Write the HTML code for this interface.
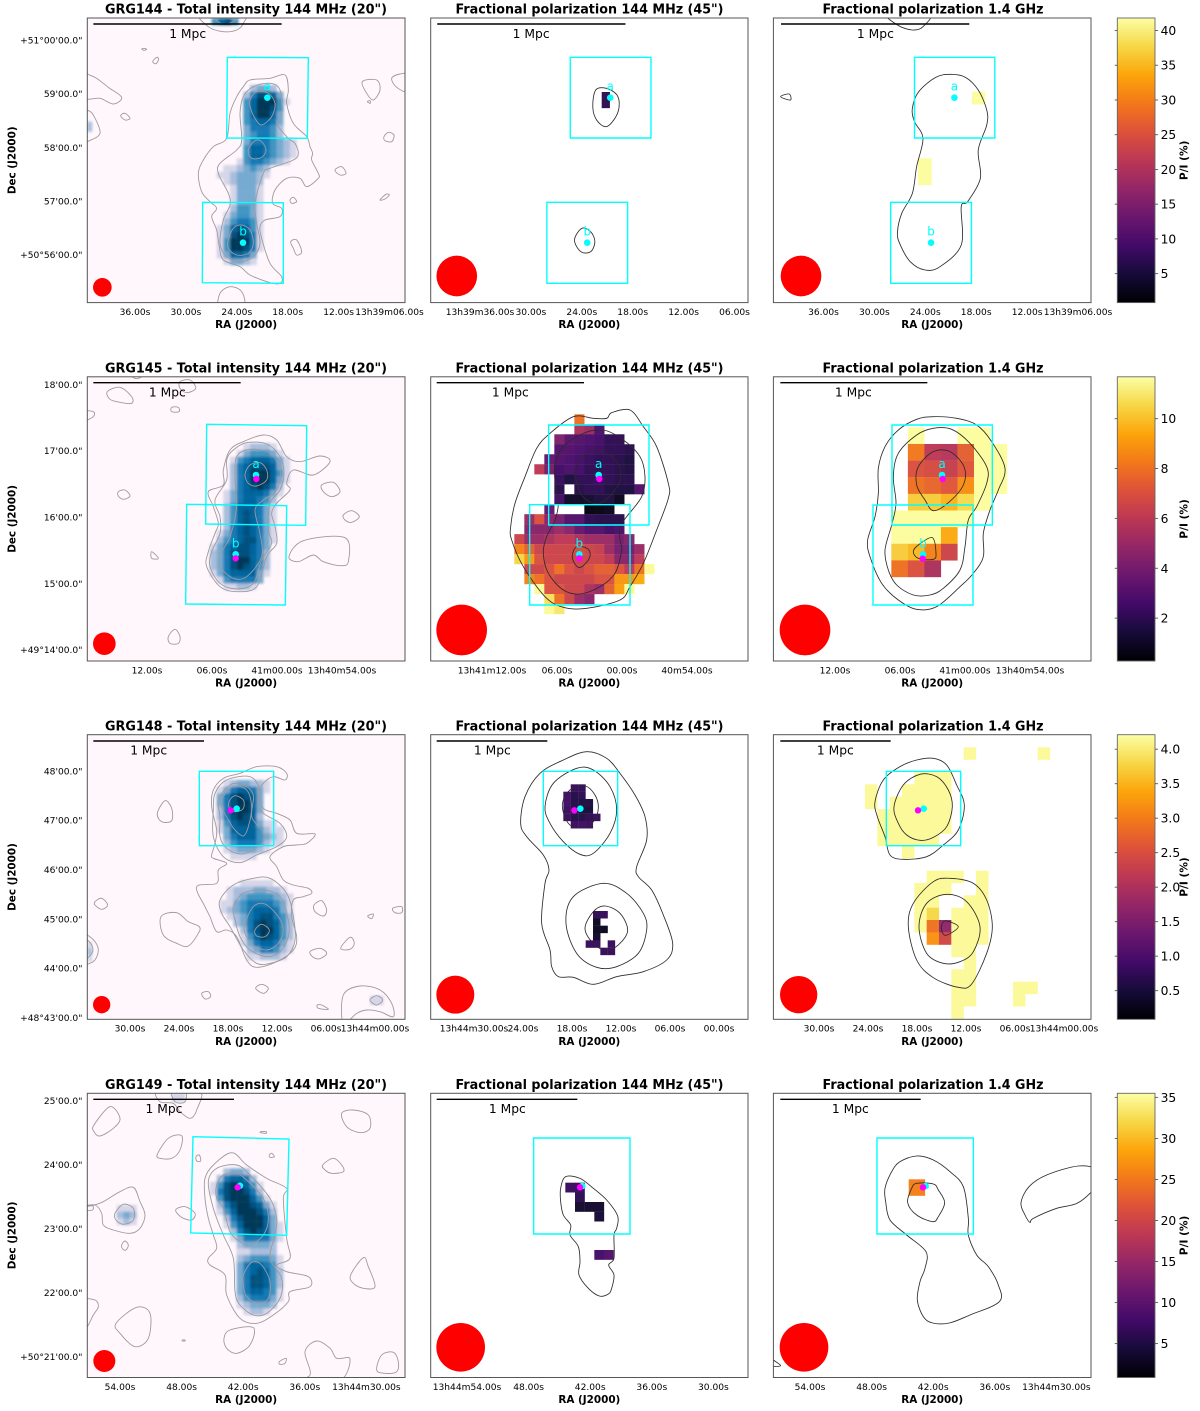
<!DOCTYPE html>
<html lang="en">
<head>
<meta charset="utf-8">
<title>GRG polarization maps</title>
<style>
html,body{margin:0;padding:0;background:#fff;}
svg{display:block;font-family:"DejaVu Sans","Liberation Sans",sans-serif;}
</style>
</head>
<body>
<svg id="fig" xmlns="http://www.w3.org/2000/svg" width="1200" height="1411" viewBox="0 0 1200 1411">
<defs><filter id="soft" x="-5%" y="-5%" width="110%" height="110%"><feGaussianBlur stdDeviation="1.25"/></filter></defs>
</svg>
<script>
/* ---------- colour scales ---------- */
const pubuStops = ['#fff7fb','#ece7f2','#d0d1e6','#a6bddb','#74a9cf','#3690c0','#0570b0','#045a8d','#023858'];
const infernoStops = ['#000004','#160b39','#420a68','#6a176e','#932667','#bc3754','#dd513a','#f37819','#fca50a','#f6d746','#fcffa4'];

/* ---------- row level data ---------- */
const rowTops = [18, 376.8, 734.7, 1093.3];
const rowBottoms = [302.6, 661, 1019.3, 1377.5];
const colLefts = [87.3, 430.7, 773.4];
const colRights = [405, 748, 1091];
const sourceNames = ['GRG144', 'GRG145', 'GRG148', 'GRG149'];
const columnTitles = [' - Total intensity 144 MHz (20")', 'Fractional polarization 144 MHz (45")', 'Fractional polarization 1.4 GHz'];
const titleCenters = [246, 589.5, 933];
const titleWidths = [282, 268, 221];

const decLabels = [
  ['+51°00\'00.0"', '59\'00.0"', '58\'00.0"', '57\'00.0"', '+50°56\'00.0"'],
  ['18\'00.0"', '17\'00.0"', '16\'00.0"', '15\'00.0"', '+49°14\'00.0"'],
  ['48\'00.0"', '47\'00.0"', '46\'00.0"', '45\'00.0"', '44\'00.0"', '+48°43\'00.0"'],
  ['25\'00.0"', '24\'00.0"', '23\'00.0"', '22\'00.0"', '+50°21\'00.0"']
];
const decTickMin = [[5, 4, 3, 2, 1], [5, 4, 3, 2, 1], [6, 5, 4, 3, 2, 1], [5, 4, 3, 2, 1]];
const decAxisFirst = [40, 384.5, 771, 1100.5];
const decAxisStep = [53.7, 66.3, 49.3, 64];

const raLabels = [
  [['36.00s','30.00s','24.00s','18.00s','12.00s','13h39m06.00s'],['13h39m36.00s','30.00s','24.00s','18.00s','12.00s','06.00s'],['36.00s','30.00s','24.00s','18.00s','12.00s','13h39m06.00s']],
  [['12.00s','06.00s','41m00.00s','13h40m54.00s'],['13h41m12.00s','06.00s','00.00s','40m54.00s'],['12.00s','06.00s','41m00.00s','13h40m54.00s']],
  [['30.00s','24.00s','18.00s','12.00s','06.00s','13h44m00.00s'],['13h44m30.00s','24.00s','18.00s','12.00s','06.00s','00.00s'],['30.00s','24.00s','18.00s','12.00s','06.00s','13h44m00.00s']],
  [['54.00s','48.00s','42.00s','36.00s','13h44m30.00s'],['13h44m54.00s','48.00s','42.00s','36.00s','30.00s'],['54.00s','48.00s','42.00s','36.00s','13h44m30.00s']]
];
const raAxisFirst = [[135,480,823.5],[147,492,835],[130,474,819],[120,467,810]];
const raAxisStep = [50.9, 65, 49, 61.6];

const cbarMin = [0.83, 0.28, 0.085, 0.87];
const cbarMax = [41.8, 11.68, 4.21, 35.5];
const cbarTicks = [[5,10,15,20,25,30,35,40],[2,4,6,8,10],[0.5,1,1.5,2,2.5,3,3.5,4],[5,10,15,20,25,30,35]];
const cbarTickLabels = [['5','10','15','20','25','30','35','40'],['2','4','6','8','10'],['0.5','1.0','1.5','2.0','2.5','3.0','3.5','4.0'],['5','10','15','20','25','30','35']];

/* ---------- GRG144 ---------- */
const r1p1Heat = [
 {x:410,y:255,cw:20,ch:20,rows:[
  [0,0,0,0,0,2,3,3,2,0,0,0],[0,0,0,0,2,5,7,7,6,3,0,0],[0,0,0,0,4,6,8,8,8,4,1,0],[0,0,0,0,4,6,8,8,7,4,0,0],
  [0,0,0,0,4,6,8,8,6,3,0,0],[0,0,0,0,4,5,6,6,5,3,0,0],[0,0,0,0,3,5,5,5,4,2,0,0],[0,0,0,0,3,4,5,5,4,2,0,0],
  [0,0,0,0,3,5,5,5,4,3,2,1],[0,0,0,0,4,6,6,5,4,3,2,1],[0,0,0,0,4,6,6,5,4,3,2,1],[0,0,0,1,4,5,5,4,3,2,1,0],
  [0,1,1,2,3,4,3,2,0,0,0,0],[1,1,2,3,3,3,2,1,0,0,0,0],[0,1,2,3,3,3,2,0,0,0,0,0],[0,0,1,3,3,3,1,0,0,0,0,0],
  [0,0,1,3,3,3,1,0,0,0,0,0],[0,0,1,3,3,3,1,0,0,0,0,0],[0,0,2,4,4,3,1,0,0,0,0,0],[0,1,3,4,4,3,1,0,0,0,0,0],
  [0,2,4,5,5,4,1,0,0,0,0,0],[1,3,6,7,6,4,1,0,0,0,0,0],[1,3,7,8,7,5,1,0,0,0,0,0],[1,4,8,8,8,5,1,0,0,0,0,0],
  [1,4,8,8,7,5,1,0,0,0,0,0],[1,3,6,6,5,3,0,0,0,0,0,0],[0,1,3,3,2,1,0,0,0,0,0,0]]},
 {x:395,y:55,cw:20,ch:20,rows:[[4,6,7,4]]},
 {x:22,y:365,cw:14,ch:30,rows:[[2]]}
];
const r1p1Contours = [
 [490,260,510,240,570,235,615,225,625,270,620,310,640,370,680,410,690,440,698,460,695,480,715,520,715,535,680,560,660,535,620,535,585,570,578,610,605,625,600,650,555,660,540,680,545,715,570,790,605,830,600,850,570,848,510,825,480,800,430,780,418,740,410,690,395,650,410,625,390,605,365,575,355,520,370,480,400,440,440,415,450,340,470,290],
 [490,290,520,260,570,250,600,270,605,340,590,370,625,415,645,430,655,460,640,480,570,505,550,520,525,610,530,670,540,730,520,770,480,785,440,770,420,730,430,660,450,615,445,580,415,520,420,490,470,450,485,420,480,340],
 [510,300,530,275,565,280,585,310,575,350,545,375,525,355,510,320],
 [505,450,525,422,545,425,558,450,545,472,515,475],
 [445,720,460,685,485,675,510,690,520,730,505,760,470,765,445,745],
 [360,40,385,80,430,95,470,90,490,70,490,40],
 [400,40,410,62,435,72,465,62,475,40],
 [10,215,22,222,50,235,85,262,125,292,100,312,60,295,10,292],
 [10,325,22,330,40,345,60,400,22,425,10,430],
 [185,147,192,145,200,148,192,151],
 [218,185,230,172,236,178,228,191],
 [122,347,135,340,150,355,135,360],
 [765,510,785,500,798,520,780,525],
 [912,410,925,397,942,405,935,425,915,422],
 [900,600,918,583,928,585,915,597],
 [630,600,640,592,650,605,635,610],
 [632,725,650,720,665,755,650,765,640,745],
 [847,245,890,240,900,270,880,300,860,280],
 [935,235,960,222,985,225,985,275,950,262],
 [862,305,870,302,871,310],
 [420,920,420,880,450,860,485,875,490,920]
];
const r1p2Heat = [{x:404,y:276,cw:19,ch:48,rows:[[7]]}];
const r1p2Contours = [
 [390,270,415,265,440,285,445,320,435,355,414,380,392,360,383,320],
 [340,720,357,685,378,695,388,725,378,755,355,755]
];
const r1p3Heat = [
 {x:1275,y:275,cw:31,ch:38,rows:[[41.5]]},
 {x:1148,y:475,cw:32,ch:80,rows:[[41.5]]}
];
const r1p3Contours = [
 [1135,325,1150,275,1190,232,1225,223,1260,232,1290,270,1310,330,1310,375,1290,450,1295,535,1265,605,1250,620,1250,735,1200,800,1165,810,1130,785,1105,730,1100,695,1110,640,1135,580,1145,500,1160,415,1140,365],
 [1075,40,1100,75,1135,90,1160,80,1175,40],
 [825,290,845,282,848,300]
];

/* ---------- GRG145 ---------- */
const r2p1Heat = [{x:390,y:220,cw:20,ch:20,rows:[
 [0,0,0,0,0,1,2,2,2,1,0,0],[0,0,0,0,1,3,4,4,4,3,1,0],[0,0,0,1,4,5,6,6,6,5,3,1],[0,0,0,2,5,6,7,7,7,6,3,1],
 [0,0,0,2,5,6,8,8,8,6,4,1],[0,0,0,2,5,6,8,8,8,6,3,1],[0,0,0,2,5,6,7,8,7,5,2,0],[0,0,1,3,5,6,6,6,5,3,1,0],
 [0,0,1,3,5,6,6,5,4,2,0,0],[0,0,2,4,6,6,6,5,3,1,0,0],[0,0,2,4,6,7,6,5,3,1,0,0],[0,0,2,4,6,7,6,5,3,1,0,0],
 [0,0,2,5,6,7,6,5,3,1,0,0],[0,1,3,5,6,7,6,5,3,1,0,0],[0,2,4,5,6,7,7,5,3,1,0,0],[1,3,5,6,7,7,6,5,3,0,0,0],
 [2,3,5,7,7,7,6,5,2,0,0,0],[2,3,5,7,8,8,6,5,2,0,0,0],[2,3,5,7,8,7,6,4,2,0,0,0],[1,3,5,6,6,6,6,3,1,0,0,0],
 [0,1,4,5,5,5,5,3,0,0,0,0],[0,0,1,1,2,2,1,0,0,0,0,0]]}];
const r2p1Contours = [
 [450,240,490,215,550,195,590,210,620,260,660,275,720,258,750,275,700,315,640,300,620,340,630,360,590,400,575,430,585,470,590,520,560,560,530,650,470,665,420,650,380,590,385,545,405,490,415,460,400,410,385,365,430,345,430,300],
 [460,240,500,218,560,222,600,260,612,310,600,360,570,400,565,480,575,520,545,570,520,640,470,657,420,640,390,590,395,545,420,490,420,440,405,390,440,330,440,270],
 [470,260,510,238,570,250,600,300,590,360,550,390,525,420,540,490,545,560,500,620,460,625,420,590,420,555,450,500,470,410,465,330],
 [495,313,510,285,540,278,560,300,560,330,530,348,505,340],
 [82,65,120,52,155,80,155,100,120,97,90,88],
 [300,35,330,30,347,55,320,68,300,55],
 [10,125,40,125,40,140,10,152],
 [275,112,295,112,297,125,275,125],
 [115,365,135,360,150,378,130,388,115,378],
 [215,545,235,565,215,565],
 [725,345,760,337,780,365,755,380,730,365],
 [790,435,815,422,838,440,815,457,795,450],
 [627,560,670,512,795,503,805,575,780,587,730,575,700,555,655,575],
 [265,800,285,778,300,800,295,820,270,820],
 [150,12,170,26,195,12]
];
const r2p2Heat = [{x:253,y:133,cw:30,ch:29.95,rows:[
 [0,0,0,0,0,0,8,0,0,0,0,0,0,0],
 [0,0,0,0,0,0,5.5,5,2.8,0,0,0,0,0],
 [0,0,0,0,4.2,3.2,3,2.8,2.6,2,2,0,0,0],
 [0,0,0,0,3,3,2.8,2.6,2.4,2,2,1.8,0,0],
 [0,0,0,3.5,3,2.8,2.6,2.2,2,2,1.8,1.5,0,0],
 [0,0,6,4,2.5,2.8,2.5,2,2,2,1.8,1.6,0,0],
 [0,0,0,0,2.2,1.5,2,2,2.2,2,1.8,1.8,0,0],
 [0,0,0,0,1.8,0,1.8,2,2,1.6,1.5,1.5,3,0],
 [0,0,0,0,2.5,1,1,1.2,1.5,1.6,0.8,0,0,0],
 [0,0,0,3.5,0,0,0,0.5,0.6,0.8,0,0,0,0],
 [0,5,7,4.5,4,3,3,2,1.8,1.8,1.8,0,0,0],
 [0,4.5,4.5,4.5,5,4.5,3.5,3,3,2.5,2.8,0,0,0],
 [6.5,5,5,5.5,6,6,5.5,5,5,5,4,4.5,0,0],
 [8.5,7.5,6.5,6.5,6.5,6.5,6.8,6.5,6.3,5,4,4,5,0],
 [10.5,9,7,6.5,6.5,6.5,6.5,6.5,6.5,6,4.5,4.5,6,0],
 [0,6.5,6.5,7,8,7,6.5,7,7.5,7.5,7,6,8,11.5],
 [0,8.5,8,7,6.5,6.5,6.5,6.5,7,7,9,9,9.5,0],
 [0,0,11.5,7,7,6.5,6.5,5.5,5,7.5,9.2,11.5,0,0],
 [0,0,0,10.8,8,6.5,5,4.5,0,0,0,0,0,0],
 [0,0,0,11.5,11,0,0,0,0,0,0,0,0,0]]}];
const r2p2Contours = [
 [320,235,360,190,430,140,490,145,530,145,545,128,600,120,640,170,680,230,715,340,715,385,680,480,640,580,600,650,570,690,470,715,400,712,345,680,280,590,245,510,242,470,255,400,285,320],
 [375,280,400,230,460,190,520,180,580,210,630,260,645,320,635,380,590,440,570,470,570,510,575,540,555,610,510,650,450,672,400,660,355,610,340,550,350,500,375,450,385,400,375,330],
 [437,300,460,255,510,240,560,275,572,320,555,360,510,400,470,390,445,355],
 [427,563,440,530,475,538,478,565,448,593]
];
const r2p3Heat = [{x:364,y:172,cw:49.6,ch:49.9,rows:[
 [0,11.6,0,0,11.6,11.6,0],
 [0,8.2,6,5.8,7.5,11.6,11.6],
 [0,7,6.8,6.3,7.2,11.6,11.6],
 [0,8,7.7,7.2,8.8,11.6,11.6],
 [0,10.3,10.3,9.7,10.6,11.6,0],
 [11.6,11.6,11.6,11.6,11.6,0,0],
 [11.6,11.6,11.6,9.5,0,0,0],
 [10.3,9.8,8.5,6.5,0,0,0],
 [8,7,5.5,0,0,0,0]]}];
const r2p3Contours = [
 [325,295,345,230,385,180,440,148,490,140,560,145,620,165,665,215,705,295,685,360,660,420,640,490,640,560,610,610,570,650,500,710,440,718,385,690,335,640,300,560,293,510,315,440,325,370],
 [370,320,385,250,440,195,490,175,545,178,600,220,650,290,650,340,620,410,595,450,585,530,570,600,520,655,480,675,430,675,380,645,355,600,345,540,365,465,378,400],
 [440,345,445,290,490,245,540,245,582,290,580,345,535,398,490,422,465,390],
 [430,545,445,525,487,503,498,550,490,568,445,565]
];

/* ---------- GRG148 ---------- */
const r3p1Heat = [
 {x:410,y:150,cw:20,ch:20,rows:[
  [0,1,2,3,3,2,2,1,0,0],[1,3,5,6,6,5,3,1,0,0],[3,5,7,8,7,6,3,0,0,0],[3,5,7,8,8,6,3,0,0,0],[2,5,8,8,8,6,3,0,0,0],
  [2,5,7,8,7,6,2,0,0,0],[1,4,6,7,7,6,3,1,1,0],[1,3,6,6,6,6,4,2,1,1],[0,3,5,6,6,6,4,3,2,1],[0,2,4,5,5,5,4,2,1,1],
  [0,1,2,3,3,3,2,1,0,0],[0,0,1,1,1,1,0,0,0,0]]},
 {x:420,y:450,cw:20,ch:20,rows:[
  [0,0,0,1,1,1,1,1,0,0,0],[0,1,2,2,2,3,3,2,2,1,0],[0,1,2,3,4,4,4,4,3,2,1],[1,1,3,4,5,5,5,5,4,3,1],
  [1,2,3,4,5,6,6,6,5,3,1],[0,1,2,3,5,6,7,7,5,4,2],[0,0,2,3,5,7,8,7,6,4,2],[0,0,0,2,5,7,8,8,6,4,2],
  [0,0,0,1,4,6,8,7,6,4,2],[0,0,0,1,3,5,6,6,5,3,1],[0,0,0,0,2,3,5,5,4,2,1],[0,0,0,0,1,1,2,2,2,1,0]]},
 {x:22,y:635,cw:14,ch:20,rows:[[1],[2],[1]]},
 {x:870,y:797,cw:20,ch:14,rows:[[1,1],[1,1]]}
];
const r3p1Contours = [
 [400,180,430,145,480,130,530,110,590,110,620,130,615,150,580,140,550,160,535,190,550,235,590,250,630,270,650,310,705,312,680,340,650,345,610,350,570,380,590,410,610,450,640,465,685,475,695,490,670,500,640,510,635,560,650,620,640,660,590,695,530,712,500,690,470,620,440,600,410,605,390,560,375,530,350,470,410,460,415,420,440,400,400,385,395,375,405,340,410,300,395,230],
 [405,190,440,150,510,140,540,180,535,220,550,250,600,280,620,320,590,350,530,375,480,398,430,380,400,320,400,240],
 [415,210,450,165,490,165,520,195,515,260,545,300,552,330,520,360,480,372,440,355,420,320,420,260],
 [430,200,460,170,500,180,515,230,505,290,490,318,465,300,445,270,425,230],
 [447,215,465,197,490,210,490,235,470,245,450,240],
 [420,510,460,465,520,445,570,445,620,490,640,560,645,630,620,680,570,700,530,700,490,660,450,590,425,550],
 [460,530,490,490,550,480,600,500,625,570,625,620,600,665,560,680,510,660,480,620,465,570],
 [495,580,520,530,555,522,595,560,610,600,595,640,560,660,520,645,495,610],
 [525,600,545,583,568,600,555,620,530,618],
 [232,250,255,212,275,235,275,272,245,275],
 [45,515,65,505,83,525,65,538,45,525],
 [243,560,290,548,325,575,358,590,355,610,325,648,290,640,250,615],
 [365,790,385,785,392,800,375,807],
 [527,775,545,763,565,775,550,790],
 [702,525,725,512,740,540,730,558,705,545],
 [690,665,720,655,740,670,720,686,700,682],
 [782,655,810,622,823,640,810,658],
 [938,535,965,530,965,548,945,548],
 [863,558,880,552,875,566],
 [712,825,725,825,745,838,715,835],
 [790,795,840,768,900,780,935,820,940,860,900,845,860,840,830,850,790,880],
 [870,810,890,797,908,810,890,825],
 [10,612,22,615,45,635,55,660,45,690,22,703,10,705],
 [10,625,22,630,35,645,38,665,22,685,10,690]
];
const r3p2Heat = [
 {x:400,y:163,cw:22.2,ch:22,rows:[
  [0,0.8,0.75,0,0],[0.9,0.6,0.7,0,0],[0.9,0.6,0.55,0.55,0],[0.8,0.6,0.5,0.5,0],[0.8,0.6,0.6,0.7,0.8],[0,0.85,0.9,0.85,0]]},
 {x:467,y:543,cw:22,ch:22,rows:[
  [0,0.7,0.8,0],[0,0.3,0,0],[0,0.3,0.3,0],[0,0.4,0,0],[0.8,0.8,0,0.8],[0,0,0.8,0.8]]}
];
const r3p2Contours = [
 [272,280,285,200,330,130,400,90,470,65,530,85,570,130,615,195,645,260,650,330,620,410,625,440,665,480,700,555,728,640,710,690,640,725,560,740,490,763,430,742,385,740,365,710,360,660,335,580,345,460,357,420,340,375,290,320],
 [345,230,370,160,440,115,490,120,540,170,560,240,540,310,490,370,450,373,400,335,360,280],
 [397,225,420,180,465,168,495,195,505,235,490,275,450,292,415,280],
 [408,580,430,500,520,460,590,490,640,550,650,600,625,670,560,710,500,712,440,670],
 [465,595,490,545,525,528,570,550,593,600,570,640,530,662,490,640]
];
const r3p3Heat = [{x:285,y:52,cw:37,ch:37,rows:[
 [0,0,0,0,0,0,0,0,4.15,0,0,0,0,0,4.15],
 [0,0,0,0,0,0,0,0,0,0,0,0,0,0,0],
 [0,0,0,0,4.15,4.15,4.15,0,0,0,0,0,0,0,0],
 [4.15,0,0,4.15,4.15,4.15,4.15,0,0,0,0,0,0,0,0],
 [4.15,0,4.15,4.15,4.15,4.15,4.15,0,0,0,0,0,0,0,0],
 [0,4.15,4.15,4.15,4.15,4.15,4.15,0,0,0,0,0,0,0,0],
 [0,4.15,4.15,4.15,4.15,4.15,4.15,0,0,0,0,0,0,0,0],
 [0,4.15,4.15,4.15,4.15,4.15,0,0,0,0,0,0,0,0,0],
 [0,0,0,4.15,0,0,0,0,0,0,0,0,0,0,0],
 [0,0,0,0,0,0,0,0,0,0,0,0,0,0,0],
 [0,0,0,0,0,4.15,4.15,4.15,0,4.15,0,0,0,0,0],
 [0,0,0,0,4.15,4.15,4.15,0,0,4.15,0,0,0,0,0],
 [0,0,0,0,4.15,4.15,0,0,4.15,4.15,0,0,0,0,0],
 [0,0,0,0,4.15,3.8,0,4.15,4.15,4.15,0,0,0,0,0],
 [0,0,0,0,4.15,2.9,1.7,4.15,4.15,4.15,0,0,0,0,0],
 [0,0,0,0,0,3.2,2.4,4.15,4.15,4.15,0,0,0,0,0],
 [0,0,0,0,0,0,0,4.15,4.15,0,0,0,0,0,0],
 [0,0,0,0,0,0,0,0,4.15,0,0,0,0,0,0],
 [0,0,0,0,0,0,0,4.15,4.15,0,0,0,0,0,0],
 [0,0,0,0,0,0,0,4.15,4.15,0,0,0,4.15,4.15,0],
 [0,0,0,0,0,0,0,4.15,4.15,0,0,0,4.15,0,0],
 [0,0,0,0,0,0,0,4.15,0,0,0,0,0,0,0]]}];
const r3p3Contours = [
 [315,215,340,150,390,110,440,90,490,85,530,105,560,165,583,225,565,300,520,345,470,380,400,388,360,375,345,320,322,260],
 [372,230,400,165,450,133,500,140,535,180,547,230,530,290,490,322,450,331,410,315,385,280],
 [415,590,430,520,490,455,540,445,610,460,650,510,667,590,650,670,605,762,565,772,490,743,440,690],
 [447,590,470,520,530,493,590,515,630,590,610,665,570,695,520,700,470,670],
 [514,595,525,573,565,590,527,616]
];

/* ---------- GRG149 ---------- */
const r4p1Heat = [
 {x:390,y:250,cw:20,ch:20,rows:[
  [0,0,2,3,3,2,0,0,0,0,0],[0,2,5,6,6,5,2,0,0,0,0],[1,4,7,8,8,6,4,1,0,0,0],[1,5,7,8,8,7,5,2,0,0,0],
  [0,4,7,8,8,8,6,4,1,0,0],[0,2,5,7,8,8,7,6,3,1,0],[0,1,4,6,8,8,8,7,5,2,0],[0,0,2,5,7,8,8,8,6,3,0],
  [0,0,1,4,6,8,8,8,6,3,1],[0,0,0,2,5,7,8,7,6,3,1],[0,0,0,1,3,5,5,5,5,3,1],[0,0,0,0,2,3,3,3,3,2,0],
  [0,0,0,0,1,1,2,2,2,2,0],[0,0,0,0,2,3,4,4,4,3,1],[0,0,0,0,3,5,6,6,5,4,1],[0,0,0,0,3,5,6,7,6,4,2],
  [0,0,0,0,3,5,7,7,6,4,2],[0,0,0,0,3,5,7,7,6,4,2],[0,0,0,0,3,5,6,6,5,4,1],[0,0,0,0,2,4,5,5,5,3,1],
  [0,0,0,0,1,2,3,3,3,2,0],[0,0,0,0,0,1,2,2,1,0,0]]},
 {x:110,y:360,cw:20,ch:20,rows:[[1,1,1],[2,3,2],[1,2,1]]},
 {x:275,y:25,cw:20,ch:25,rows:[[1,1]]}
];
const r4p1Contours = [
 [375,280,400,240,455,203,500,240,560,280,620,310,610,340,620,460,630,520,590,540,620,560,685,575,690,605,630,620,625,650,580,690,530,715,480,700,440,630,435,570,390,540,385,520,410,490,400,450,385,400,375,340],
 [385,290,410,250,470,240,510,270,570,340,590,400,585,450,570,520,605,580,600,640,560,685,520,690,480,660,465,620,460,520,430,450,400,370],
 [410,300,430,270,470,265,505,290,550,340,565,400,550,450,510,480,480,470,450,440,430,370,410,340],
 [490,570,515,532,545,540,570,590,565,640,535,655,500,635,490,600],
 [105,385,130,358,160,370,160,405,130,418,108,405],
 [10,365,35,362,70,350,120,320,160,307,180,350,195,390,180,430,150,445,100,435,70,420,65,385,45,360],
 [10,362,37,362,37,375,10,375],
 [125,480,135,468,145,480,138,495,128,492],
 [42,120,90,65,120,100,100,130,60,153,42,140],
 [232,208,265,160,305,152,300,195,275,220,240,220],
 [348,215,358,210,362,228,350,228],
 [235,15,240,50,280,55,300,80,330,100,350,75,358,15],
 [275,15,285,50,315,50,315,15],
 [287,375,315,365,345,385,335,405,305,397],
 [542,140,558,140,558,145,542,143],
 [568,210,575,205,583,215,570,217],
 [785,85,820,75,865,90,870,130,840,143,800,125],
 [728,240,760,220,785,240,790,260,755,265,735,255],
 [812,570,850,518,865,545,885,605,850,610,820,595],
 [10,650,45,645,55,665,40,690,22,725,10,730],
 [108,715,170,667,210,685,205,760,165,785,120,745],
 [432,760,450,735,520,728,510,780,470,805,440,790],
 [598,830,618,820,615,835,600,838],
 [635,890,690,870,675,800,710,768,750,790,770,820,810,822,775,890],
 [890,855,905,810,940,802,955,830,950,860,915,865],
 [307,765,315,765,315,768,307,768]
];
const r4p2Heat = [
 {x:406,y:293,cw:29,ch:29,rows:[
  [7,7,0,0],[0,6,0,0],[0,3.5,3.5,3.5],[0,0,0,4]]},
 {x:493,y:495,cw:29,ch:29,rows:[[8,9]]}
];
const r4p2Contours = [
 [392,310,407,275,450,280,490,310,530,345,563,393,560,430,552,450,552,520,536,540,552,570,545,610,535,627,508,633,475,610,447,570,450,530,445,485,420,450,422,420,400,390,392,350]
];
const r4p3Heat = [{x:416,y:283,cw:49,ch:49,rows:[[25.5]]}];
const r4p3Contours = [
 [347,350,345,310,365,260,390,230,440,213,490,225,540,260,580,305,595,400,595,450,620,510,655,545,685,600,688,650,600,690,538,714,488,714,460,695,442,645,450,590,465,550,468,500,410,450,360,405],
 [413,353,425,310,440,295,490,297,505,315,524,353,505,395,488,410,440,390],
 [753,353,777,305,830,270,925,243,980,255,980,300,925,353,860,370,790,400,780,412,765,390],
 [-5,815,10,825,32,842,10,845,-5,848]
];

/* ---------- box regions, source positions, scale bars, beams (map units) ---------- */
const r1Boxes = [[[442,172,685,173,682,415,440,414],[368,607,610,608,610,850,367,848]],[[330,172,520,172,520,414,330,414],[275,607,465,607,465,850,275,850]],[[1140,172,1329,172,1329,414,1140,414],[1084,607,1274,607,1274,850,1084,850]]];
const r2Boxes = [[[380,163,680,167,677,466,377,462],[320,403,620,407,616,705,317,702]],[[356,165,657,165,657,465,356,465],[299,404,600,404,600,705,299,705]],[[366,165,667,165,667,465,366,465],[309,405,609,405,609,705,309,705]]];
const r3Boxes = [[[358,124,581,124,581,347,358,347]],[[340,124,563,124,563,347,340,347]],[[349,124,572,124,572,347,349,347]]];
const r4Boxes = [[[339,155,627,162,620,451,332,444]],[[311,159,600,159,600,447,311,447]],[[321,159,610,159,610,447,321,447]]];

const r1Cyan = [[[562,293],[489,728]],[[424,293],[370,728]],[[1234,293],[1179,728]]];
const r2Cyan = [[[528,315],[467,553]],[[506,315],[448,553]],[[516,315],[459,553]]];
const r2Magenta = [[[529,327],[467,565]],[[508,327],[448,565]],[[518,327],[458,566]]];
const r3Cyan = [[[470,236]],[[451,236]],[[461,236]]];
const r3Magenta = [[[452,241]],[[433,241]],[[444,241]]];
const r4Cyan = [[[480,302]],[[457,303]],[[467,303]]];
const r4Magenta = [[[473,307]],[[450,307]],[[459,307]]];

const r1Scale = [[40,605,72,323,100],[17,460,72,238,100],[826,1269,72,1048,100]];
const r2Scale = [[40,482,38,262,65],[20,462,38,241,65],[31,472,38,250,65]];
const r3Scale = [[40,372,33,206,60],[20,352,33,187,60],[31,362,33,196,60]];
const r4Scale = [[40,462,43,252,70],[20,442,43,232,70],[31,452,43,241,70]];

const r1Beam = [[67,862,28],[63,828,61],[873,828,61]];
const r2Beam = [[73,821,34],[95,780,76],[105,780,76]];
const r3Beam = [[65,824,26],[76,794,57],[86,794,56]];
const r4Beam = [[73,828,33],[92,787,73],[102,787,73]];

const rowCropsY = [0, 370, 730, 1085];
const rowColumnCropsX = [[80,430,430],[80,430,770],[80,430,770],[80,430,770]];
const rowColumnZoomX = [[3,2.353,2.353],[3,3,3],[3,3,3],[3,3,3]];

const allHeat = [[r1p1Heat,r1p2Heat,r1p3Heat],[r2p1Heat,r2p2Heat,r2p3Heat],[r3p1Heat,r3p2Heat,r3p3Heat],[r4p1Heat,r4p2Heat,r4p3Heat]];
const allContours = [[r1p1Contours,r1p2Contours,r1p3Contours],[r2p1Contours,r2p2Contours,r2p3Contours],[r3p1Contours,r3p2Contours,r3p3Contours],[r4p1Contours,r4p2Contours,r4p3Contours]];
const allBoxes = [r1Boxes,r2Boxes,r3Boxes,r4Boxes];
const allCyan = [r1Cyan,r2Cyan,r3Cyan,r4Cyan];
const allMagenta = [[[],[],[]],r2Magenta,r3Magenta,r4Magenta];
const allScale = [r1Scale,r2Scale,r3Scale,r4Scale];
const allBeam = [r1Beam,r2Beam,r3Beam,r4Beam];
const sourceLetters = ['a','b'];
const letterOffset = 33;

/* ---------- helpers ---------- */
const NS = 'http://www.w3.org/2000/svg';
const svg = document.getElementById('fig');
const defs = svg.querySelector('defs');
function add(tag, attrs, parent) {
  const el = document.createElementNS(NS, tag);
  for (const k in attrs) el.setAttribute(k, attrs[k]);
  (parent || svg).appendChild(el);
  return el;
}
function hexRgb(h) { return [parseInt(h.slice(1,3),16), parseInt(h.slice(3,5),16), parseInt(h.slice(5,7),16)]; }
function ramp(stops, t) {
  t = Math.max(0, Math.min(1, t)) * (stops.length - 1);
  const i = Math.min(stops.length - 2, Math.floor(t));
  const a = hexRgb(stops[i]);
  const b = hexRgb(stops[i + 1]);
  const f = t - i;
  return 'rgb(' + a.map((v, j) => Math.round(v + (b[j] - v) * f)).join(',') + ')';
}
function smoothPath(pts, fx, fy) {
  const p = [];
  for (let i = 0; i < pts.length; i += 2) p.push([fx(pts[i]), fy(pts[i + 1])]);
  const n = p.length;
  let d = 'M' + p[0][0].toFixed(2) + ' ' + p[0][1].toFixed(2);
  for (let i = 0; i < n; i++) {
    const p0 = p[(i - 1 + n) % n], p1 = p[i], p2 = p[(i + 1) % n], p3 = p[(i + 2) % n];
    const c1x = p1[0] + (p2[0] - p0[0]) / 6, c1y = p1[1] + (p2[1] - p0[1]) / 6;
    const c2x = p2[0] - (p3[0] - p1[0]) / 6, c2y = p2[1] - (p3[1] - p1[1]) / 6;
    d += 'C' + c1x.toFixed(2) + ' ' + c1y.toFixed(2) + ' ' + c2x.toFixed(2) + ' ' + c2y.toFixed(2) + ' ' + p2[0].toFixed(2) + ' ' + p2[1].toFixed(2);
  }
  return d + 'Z';
}

/* ---------- draw panels ---------- */
rowTops.forEach((top, r) => {
  const bottom = rowBottoms[r];
  colLefts.forEach((left, c) => {
    const right = colRights[c];
    const cropX = rowColumnCropsX[r][c];
    const kx = rowColumnZoomX[r][c];
    const cropY = rowCropsY[r];
    const fx = v => cropX + v / kx;
    const fy = v => cropY + v / 3;
    const pid = sourceNames[r].toLowerCase() + '-panel-' + (c + 1);

    const g = add('g', {});
    
    

    const clip = add('clipPath', {id: 'clip-' + r + '-' + c}, defs);
    add('rect', {x: left, y: top, width: right - left, height: bottom - top}, clip);

    const plot = add('g', {'clip-path': 'url(#clip-' + r + '-' + c + ')'}, g);
    
    

    if (c === 0) {
      const bg = add('rect', {x: left, y: top, width: right - left, height: bottom - top, fill: '#fff7fb'}, plot);
      
      
    }

    /* heatmap cells */
    const heatG = add('g', c === 0 ? {filter: 'url(#soft)'} : {opacity: 0.97}, plot);
    
    
    allHeat[r][c].forEach(block => {
      block.rows.forEach((row, j) => {
        row.forEach((val, i) => {
          if (!val) return;
          const fill = c === 0 ? ramp(pubuStops, Math.pow(val / 8, 0.72)) : ramp(infernoStops, (val - cbarMin[r]) / (cbarMax[r] - cbarMin[r]));
          const cell = add('rect', {
            x: fx(block.x + i * block.cw).toFixed(2),
            y: fy(block.y + j * block.ch).toFixed(2),
            width: (block.cw / kx + 0.15).toFixed(2),
            height: (block.ch / 3 + 0.15).toFixed(2),
            fill: fill
          }, heatG);
          
          
        });
      });
    });

    /* contours */
    allContours[r][c].forEach(pts => {
      const path = add('path', {
        d: smoothPath(pts, fx, fy),
        fill: 'none',
        stroke: c === 0 ? '#9d9a9f' : '#2b2b2b',
        'stroke-width': c === 0 ? 0.9 : 0.85
      }, plot);
      
      
    });

    /* region boxes */
    allBoxes[r][c].forEach(box => {
      const pts = [];
      for (let i = 0; i < box.length; i += 2) pts.push(fx(box[i]).toFixed(2) + ',' + fy(box[i + 1]).toFixed(2));
      const poly = add('polygon', {points: pts.join(' '), fill: 'none', stroke: '#00ffff', 'stroke-width': 1.4}, plot);
      
      
    });

    /* source markers */
    allCyan[r][c].forEach((pt, i) => {
      const dot = add('circle', {cx: fx(pt[0]).toFixed(2), cy: fy(pt[1]).toFixed(2), r: 3.3, fill: '#00ffff'}, plot);
      
      
      if (r < 2) {
        const lab = add('text', {x: fx(pt[0]).toFixed(2), y: (fy(pt[1] - letterOffset) + 4).toFixed(2), 'text-anchor': 'middle', 'font-size': 12, fill: '#00ffff'}, plot);
        lab.textContent = sourceLetters[i];
        
        
      }
    });
    allMagenta[r][c].forEach(pt => {
      const dot = add('circle', {cx: fx(pt[0]).toFixed(2), cy: fy(pt[1]).toFixed(2), r: 3.2, fill: '#ff00ff'}, plot);
      
      
    });

    /* scale bar */
    const sb = allScale[r][c];
    const barLine = add('line', {x1: fx(sb[0]), x2: fx(sb[1]), y1: fy(sb[2]), y2: fy(sb[2]), stroke: '#000', 'stroke-width': 1.4}, plot);
    
    
    const barText = add('text', {x: fx(sb[3]), y: fy(sb[4]) + 4.6, 'text-anchor': 'middle', 'font-size': 12.3, fill: '#000'}, plot);
    barText.textContent = '1 Mpc';
    
    

    /* beam */
    const bm = allBeam[r][c];
    const beam = add('circle', {cx: fx(bm[0]).toFixed(2), cy: fy(bm[1]).toFixed(2), r: (bm[2] / 3).toFixed(2), fill: '#ff0000'}, plot);
    
    

    /* frame */
    const frame = add('rect', {x: left, y: top, width: right - left, height: bottom - top, fill: 'none', stroke: '#555', 'stroke-width': 1}, g);
    
    

    /* title */
    const title = add('text', {x: titleCenters[c], y: top - 4.4, 'text-anchor': 'middle', 'font-size': 13.2, 'font-weight': 'bold', fill: '#000', textLength: titleWidths[c], lengthAdjust: 'spacingAndGlyphs'}, g);
    title.textContent = c === 0 ? sourceNames[r] + columnTitles[0] : columnTitles[c];
    
    

    /* x tick labels */
    raLabels[r][c].forEach((txt, i) => {
      const t = add('text', {x: raAxisFirst[r][c] + i * raAxisStep[r], y: bottom + 12.4, 'text-anchor': 'middle', 'font-size': 9.1, fill: '#000'}, g);
      t.textContent = txt;
      
      
    });

    /* x axis title */
    const xt = add('text', {x: (left + right) / 2, y: bottom + 25.5, 'text-anchor': 'middle', 'font-size': 10.4, 'font-weight': 'bold', fill: '#000'}, g);
    xt.textContent = 'RA (J2000)';
    
    

    /* y axis */
    if (c === 0) {
      decLabels[r].forEach((txt, i) => {
        const py = decAxisFirst[r] + (decTickMin[r][0] - decTickMin[r][i]) * decAxisStep[r];
        const t = add('text', {x: 82.4, y: py + 3.4, 'text-anchor': 'end', 'font-size': 9.1, fill: '#000'}, g);
        t.textContent = txt;
        
        
      });
      const cy = (top + bottom) / 2;
      const yt = add('text', {x: 15.5, y: cy, 'text-anchor': 'middle', 'font-size': 10.4, 'font-weight': 'bold', fill: '#000', transform: 'rotate(-90 15.5 ' + cy + ')'}, g);
      yt.textContent = 'Dec (J2000)';
      
      
    }
  });

  /* colour bar */
  const cbG = add('g', {});
  
  
  const grad = add('linearGradient', {id: 'cb' + r, x1: 0, x2: 0, y1: 1, y2: 0}, defs);
  infernoStops.forEach((col, i) => add('stop', {offset: i / (infernoStops.length - 1), 'stop-color': col}, grad));
  const cbLeft = 1117.3, cbRight = 1155;
  const bar = add('rect', {x: cbLeft, y: top, width: cbRight - cbLeft, height: bottom - top, fill: 'url(#cb' + r + ')', stroke: '#666', 'stroke-width': 0.9}, cbG);
  
  
  const cyFn = v => bottom - (v - cbarMin[r]) / (cbarMax[r] - cbarMin[r]) * (bottom - top);
  cbarTicks[r].forEach((v, i) => {
    const y = cyFn(v);
    const tl = add('line', {x1: cbLeft - 2.6, x2: cbLeft, y1: y, y2: y, stroke: '#555', 'stroke-width': 0.9}, cbG);
    
    
    const tr = add('line', {x1: cbRight, x2: cbRight + 3, y1: y, y2: y, stroke: '#555', 'stroke-width': 0.9}, cbG);
    
    
    const txt = add('text', {x: 1160.6, y: y + 4.5, 'font-size': 12.3, fill: '#000'}, cbG);
    txt.textContent = cbarTickLabels[r][i];
    
    
  });
  const midY = (top + bottom) / 2;
  const cbt = add('text', {x: 1187.6, y: midY, 'text-anchor': 'middle', 'font-size': 10.6, 'font-weight': 'bold', fill: '#000', transform: 'rotate(-90 1187.6 ' + midY + ')'}, cbG);
  cbt.textContent = 'P/I (%)';
  
  
});
</script>
</body>
</html>
